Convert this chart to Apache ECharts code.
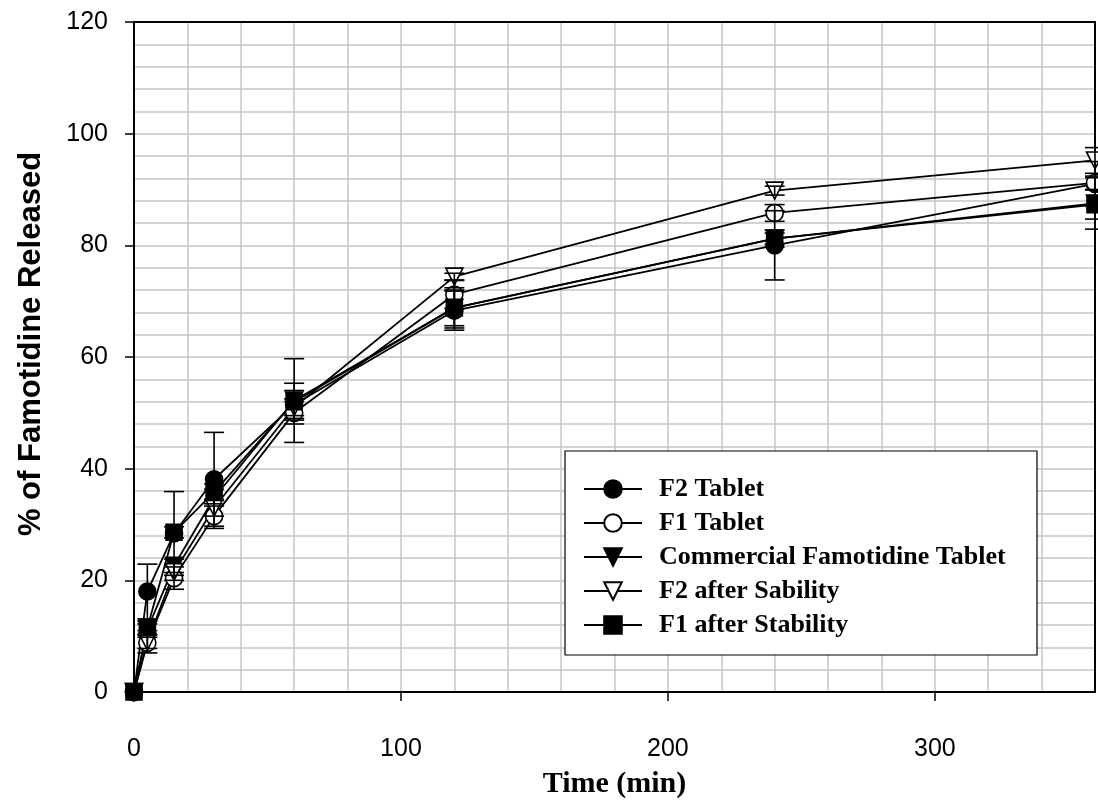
<!DOCTYPE html>
<html>
<head>
<meta charset="utf-8">
<script src="https://cdn.jsdelivr.net/npm/echarts@6/dist/echarts.min.js"></script>
<style>
  html, body { margin: 0; padding: 0; background: #fff; }
  #chart { width: 1098px; height: 808px; }
</style>
</head>
<body>
<div id="chart"></div>
<script>
// Sampling times (min)
const times = [0, 5, 15, 30, 60, 120, 240, 360];

// Series names
const seriesNames = [
  'F2 Tablet',
  'F1 Tablet',
  'Commercial Famotidine Tablet',
  'F2 after Sability',
  'F1 after Stability'
];

// Mean % of famotidine released
const f2Tablet       = [0, 18.0, 28.4, 38.1, 51.5, 68.3, 80.0, 91.0];
const f1Tablet       = [0,  8.8, 20.4, 31.5, 50.0, 71.2, 85.8, 91.2];
const commercial     = [0, 11.2, 22.6, 34.8, 52.2, 68.8, 81.2, 87.5];
const f2AfterStab    = [0,  9.0, 21.5, 33.0, 51.0, 74.4, 89.8, 95.2];
const f1AfterStab    = [0, 11.5, 28.6, 35.8, 52.0, 68.8, 81.2, 87.3];

// Standard deviations
const f2TabletSd     = [0, 4.9, 7.5, 8.4, 2.5, 3.5, 6.2, 4.0];
const f1TabletSd     = [0, 1.0, 2.0, 2.2, 2.0, 2.5, 1.5, 1.2];
const commercialSd   = [0, 1.0, 1.2, 1.5, 7.5, 3.2, 1.5, 4.6];
const f2AfterStabSd  = [0, 2.0, 1.5, 1.5, 1.5, 0.6, 0.8, 2.3];
const f1AfterStabSd  = [0, 1.2, 1.0, 1.5, 3.3, 3.6, 1.0, 2.6];

// Axis tick labels
const xTickValues = [0, 100, 200, 300];
const yTickValues = [0, 20, 40, 60, 80, 100, 120];

const means = [f2Tablet, f1Tablet, commercial, f2AfterStab, f1AfterStab];
const sds = [f2TabletSd, f1TabletSd, commercialSd, f2AfterStabSd, f1AfterStabSd];

// Marker look of each series
const markerStyles = [
  { symbol: 'circle',   fill: '#000', rotate: 0 },
  { symbol: 'circle',   fill: '#fff', rotate: 0 },
  { symbol: 'triangle', fill: '#000', rotate: 180 },
  { symbol: 'triangle', fill: '#fff', rotate: 180 },
  { symbol: 'rect',     fill: '#000', rotate: 0 }
];

const chart = echarts.init(document.getElementById('chart'), null, { renderer: 'canvas' });

// Vertical error bar with caps, drawn through the axis scales
function errorBarItem(params, api) {
  const x = api.value(0), y = api.value(1), e = api.value(2);
  if (!e) return null;
  const top = api.coord([x, y + e]);
  const bot = api.coord([x, y - e]);
  const half = 10;
  const st = { stroke: '#000', lineWidth: 1.6 };
  return {
    type: 'group',
    children: [
      { type: 'line', shape: { x1: top[0], y1: top[1], x2: bot[0], y2: bot[1] }, style: st },
      { type: 'line', shape: { x1: top[0] - half, y1: top[1], x2: top[0] + half, y2: top[1] }, style: st },
      { type: 'line', shape: { x1: bot[0] - half, y1: bot[1], x2: bot[0] + half, y2: bot[1] }, style: st }
    ]
  };
}

const series = [];
seriesNames.forEach((name, i) => {
  const m = markerStyles[i];
  series.push({
    name: name,
    type: 'line',
    data: times.map((t, k) => [t, means[i][k]]),
    symbol: m.symbol,
    symbolRotate: m.rotate,
    symbolSize: m.symbol === 'rect' ? 16 : 17,
    showAllSymbol: true,
    lineStyle: { color: '#000', width: 1.8 },
    itemStyle: { color: m.fill, borderColor: '#000', borderWidth: 1.6 },
    emphasis: { disabled: true },
    animation: false,
    z: 3
  });
  series.push({
    name: name + ' SD',
    type: 'custom',
    renderItem: errorBarItem,
    data: times.map((t, k) => [t, means[i][k], sds[i][k]]),
    animation: false,
    silent: true,
    z: 4
  });
});

const gridLine = { show: true, lineStyle: { color: '#c4c4c4', width: 1.5 } };
const frameLine = { show: true, onZero: false, lineStyle: { color: '#000', width: 2 } };

const option = {
  backgroundColor: '#fff',
  animation: false,
  grid: {
    left: 134, top: 22, right: 3, bottom: 116,
    show: false
  },
  xAxis: [{
    type: 'value',
    min: 0, max: 360, interval: 20,
    name: 'Time (min)',
    nameLocation: 'middle',
    nameGap: 77,
    nameTextStyle: { fontFamily: 'Liberation Serif', fontWeight: 'bold', fontSize: 30, color: '#000' },
    axisLine: frameLine,
    axisTick: { show: true, customValues: xTickValues, length: 9, lineStyle: { color: '#000', width: 1.5 } },
    axisLabel: { customValues: xTickValues, margin: 45, fontFamily: 'Liberation Sans', fontSize: 25, color: '#000' },
    splitLine: { show: false },
    z: 5
  }, {
    // fine grid every 20 min, plus the top frame edge
    type: 'value',
    position: 'top',
    min: 0, max: 360, interval: 20,
    axisLine: frameLine,
    axisTick: { show: false },
    axisLabel: { show: false },
    splitLine: gridLine,
    z: 1
  }],
  yAxis: [{
    type: 'value',
    min: 0, max: 120, interval: 4,
    name: '% of Famotidine Released',
    nameLocation: 'middle',
    nameGap: 87,
    nameTextStyle: {
      fontFamily: 'Liberation Sans', fontWeight: 'bold', fontSize: 31, color: '#000',
      padding: [0, 0, 0, 26]
    },
    axisLine: frameLine,
    axisTick: { show: true, customValues: yTickValues, length: 9, lineStyle: { color: '#000', width: 1.5 } },
    axisLabel: { customValues: yTickValues, margin: 26, fontFamily: 'Liberation Sans', fontSize: 25, color: '#000' },
    splitLine: { show: false },
    z: 5
  }, {
    // fine grid every 4 %, plus the right frame edge
    type: 'value',
    position: 'right',
    min: 0, max: 120, interval: 4,
    axisLine: frameLine,
    axisTick: { show: false },
    axisLabel: { show: false },
    splitLine: gridLine,
    z: 1
  }],
  graphic: [{
    type: 'rect',
    z: 10,
    shape: { x: 565, y: 451, width: 472, height: 204 },
    style: { fill: '#fff', stroke: '#000', lineWidth: 1.2 }
  }],
  legend: {
    data: seriesNames,
    orient: 'vertical',
    left: 583,
    top: 476,
    padding: 0,
    z: 20,
    itemWidth: 58,
    itemHeight: 22,
    itemGap: 8,
    selectedMode: false,
    lineStyle: { width: 2 },
    textStyle: {
      fontFamily: 'Liberation Serif', fontWeight: 'bold', fontSize: 26,
      color: '#000', lineHeight: 26, padding: [0, 0, 0, 12]
    }
  },
  series: series
};

chart.setOption(option);
</script>
</body>
</html>
